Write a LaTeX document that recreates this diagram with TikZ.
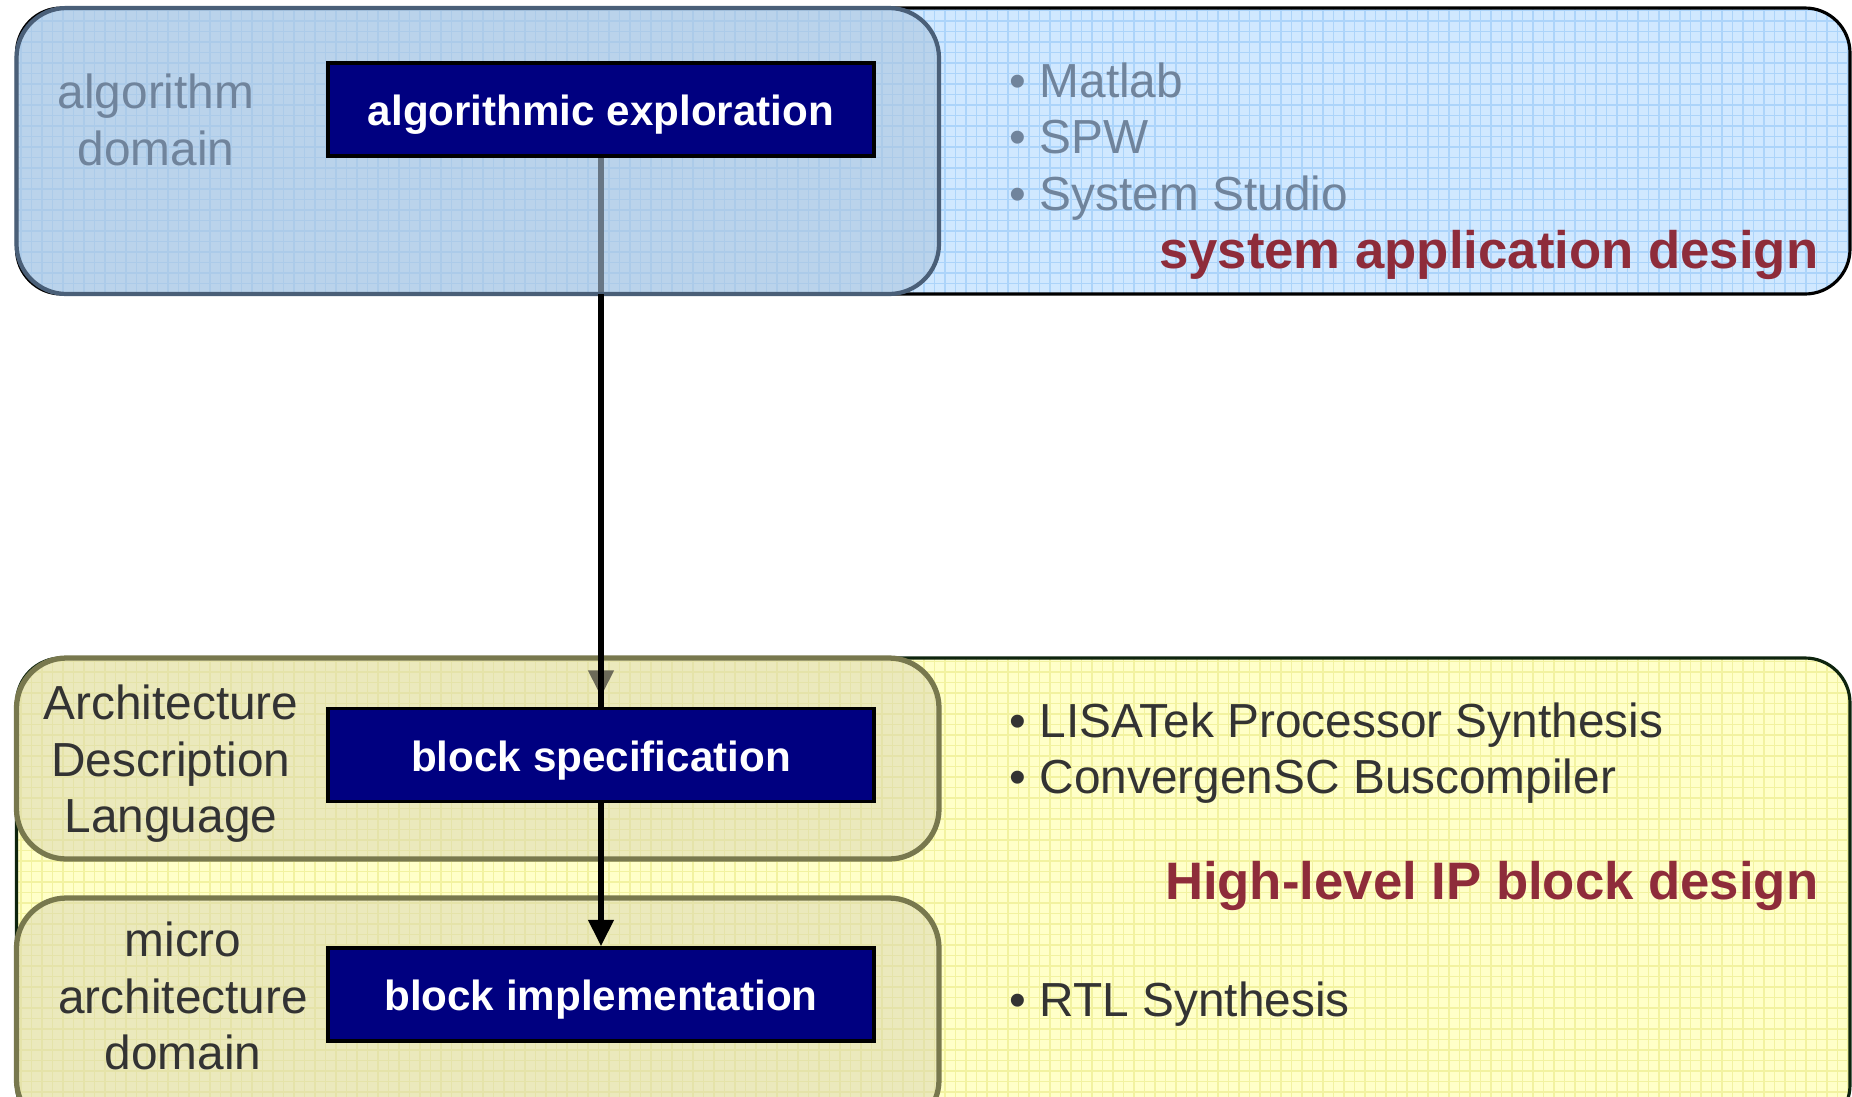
\documentclass[tikz,border=0pt]{standalone}
\usepackage{fontspec}
\setmainfont{Liberation Sans}
\usetikzlibrary{arrows.meta}

\definecolor{navybox}{RGB}{0,0,128}
\definecolor{skyfill}{RGB}{208,232,255}
\definecolor{skygrid}{RGB}{172,212,250}
\definecolor{skyinner}{RGB}{172,197,223}
\definecolor{skyedge}{RGB}{74,95,120}
\definecolor{skytext}{RGB}{112,132,156}
\definecolor{creamfill}{RGB}{255,255,200}
\definecolor{creamgrid}{RGB}{242,242,160}
\definecolor{creaminner}{RGB}{217,213,178}
\definecolor{creamedge}{RGB}{120,120,78}
\definecolor{darkedge}{RGB}{14,36,14}
\definecolor{darktext}{RGB}{51,51,51}
\definecolor{titlered}{RGB}{142,44,58}

\newcommand{\bodyfont}{\fontsize{13.6pt}{16.1pt}\selectfont}
\newcommand{\boxfont}{\fontsize{12pt}{14pt}\selectfont\bfseries}
\newcommand{\titlefont}{\fontsize{15pt}{17pt}\selectfont\bfseries}

% outer panels, the arrow that runs under the inner panels, inner panels, rest
\pgfdeclarelayer{outer}
\pgfdeclarelayer{under}
\pgfdeclarelayer{inner}
\pgfsetlayers{outer,under,inner,main}

\tikzset{
  gridded/.style={path picture={\draw[#1,line width=0.35pt,step=0.105cm]
      (path picture bounding box.south west) grid (path picture bounding box.north east);}},
  skypanel/.style={draw=black,line width=0.9pt,fill=skyfill,rounded corners=0.45cm,gridded=skygrid},
  skydomain/.style={draw=skyedge,line width=1.2pt,fill=skyinner,fill opacity=0.6,rounded corners=0.5cm},
  creampanel/.style={draw=darkedge,line width=0.9pt,fill=creamfill,rounded corners=0.45cm,gridded=creamgrid},
  creamdomain/.style={draw=creamedge,line width=1.5pt,fill=creaminner,fill opacity=0.5,rounded corners=0.5cm},
  navy/.style={draw=black,line width=1pt,fill=navybox,text=white,font=\boxfont,
    minimum width=5.46cm,minimum height=0.93cm,inner sep=0pt,text height=9.6pt,text depth=0.5pt},
  domainlabel/.style={align=center,font=\bodyfont,inner sep=0pt},
  toollist/.style={align=left,anchor=west,font=\bodyfont,inner sep=0pt},
  titletext/.style={anchor=east,font=\titlefont,text=titlered,inner sep=0pt},
  flow/.style={line width=1.5pt,-{Triangle[width=7pt,length=7.5pt]}},
  flowline/.style={line width=1.5pt}
}

\begin{document}
\begin{tikzpicture}
\useasboundingbox (0,0) rectangle (18.52,-10.96);

% flow steps
\node[navy] (algo) at (6.01,-1.095) {algorithmic exploration};
\node[navy] (spec) at (6.01,-7.55) {block specification};
\node[navy] (impl) at (6.01,-9.945) {block implementation};

% system level
\begin{pgfonlayer}{outer}
  \draw[skypanel] (0.165,-0.08) rectangle (18.50,-2.94);
  \draw[creampanel] (0.165,-6.58) rectangle (18.50,-11.3);
\end{pgfonlayer}
\begin{pgfonlayer}{inner}
  \draw[skydomain] (0.165,-0.08) rectangle (9.39,-2.94);
  \draw[creamdomain] (0.165,-6.58) rectangle (9.39,-8.59);
  \draw[creamdomain] (0.165,-8.98) rectangle (9.39,-11.3);
\end{pgfonlayer}

\node[domainlabel,text=skytext] (algdom) at (1.56,-1.20) {algorithm\\domain};
\node[domainlabel,text=darktext] (adl) at (1.71,-7.64) {Architecture\\Description\\Language};
\node[domainlabel,text=darktext] (microdom) at (1.83,-9.96) {micro\\architecture\\domain};

\node[toollist,text=skytext] (systools) at (10.09,-1.415)
  {\textbullet\ Matlab\\\textbullet\ SPW\\\textbullet\ System Studio};
\node[toollist,text=darktext] (iptools) at (10.09,-7.53)
  {\textbullet\ LISATek Processor Synthesis\\\textbullet\ ConvergenSC Buscompiler};
\node[toollist,text=darktext] (rtltools) at (10.09,-10.045) {\textbullet\ RTL Synthesis};

\node[titletext] (systitle) at (18.19,-2.545) {system application design};
\node[titletext] (iptitle) at (18.19,-8.855) {High-level IP block design};

% arrows
\coordinate (sysbottom) at (6.01,-2.94);
\begin{pgfonlayer}{under}
  \draw[flow,shorten >=0.1cm] (algo) -- (spec);
\end{pgfonlayer}
\draw[flowline] (sysbottom) -- (spec.north);
\draw[flow] (spec) -- (impl);
\end{tikzpicture}
\end{document}
